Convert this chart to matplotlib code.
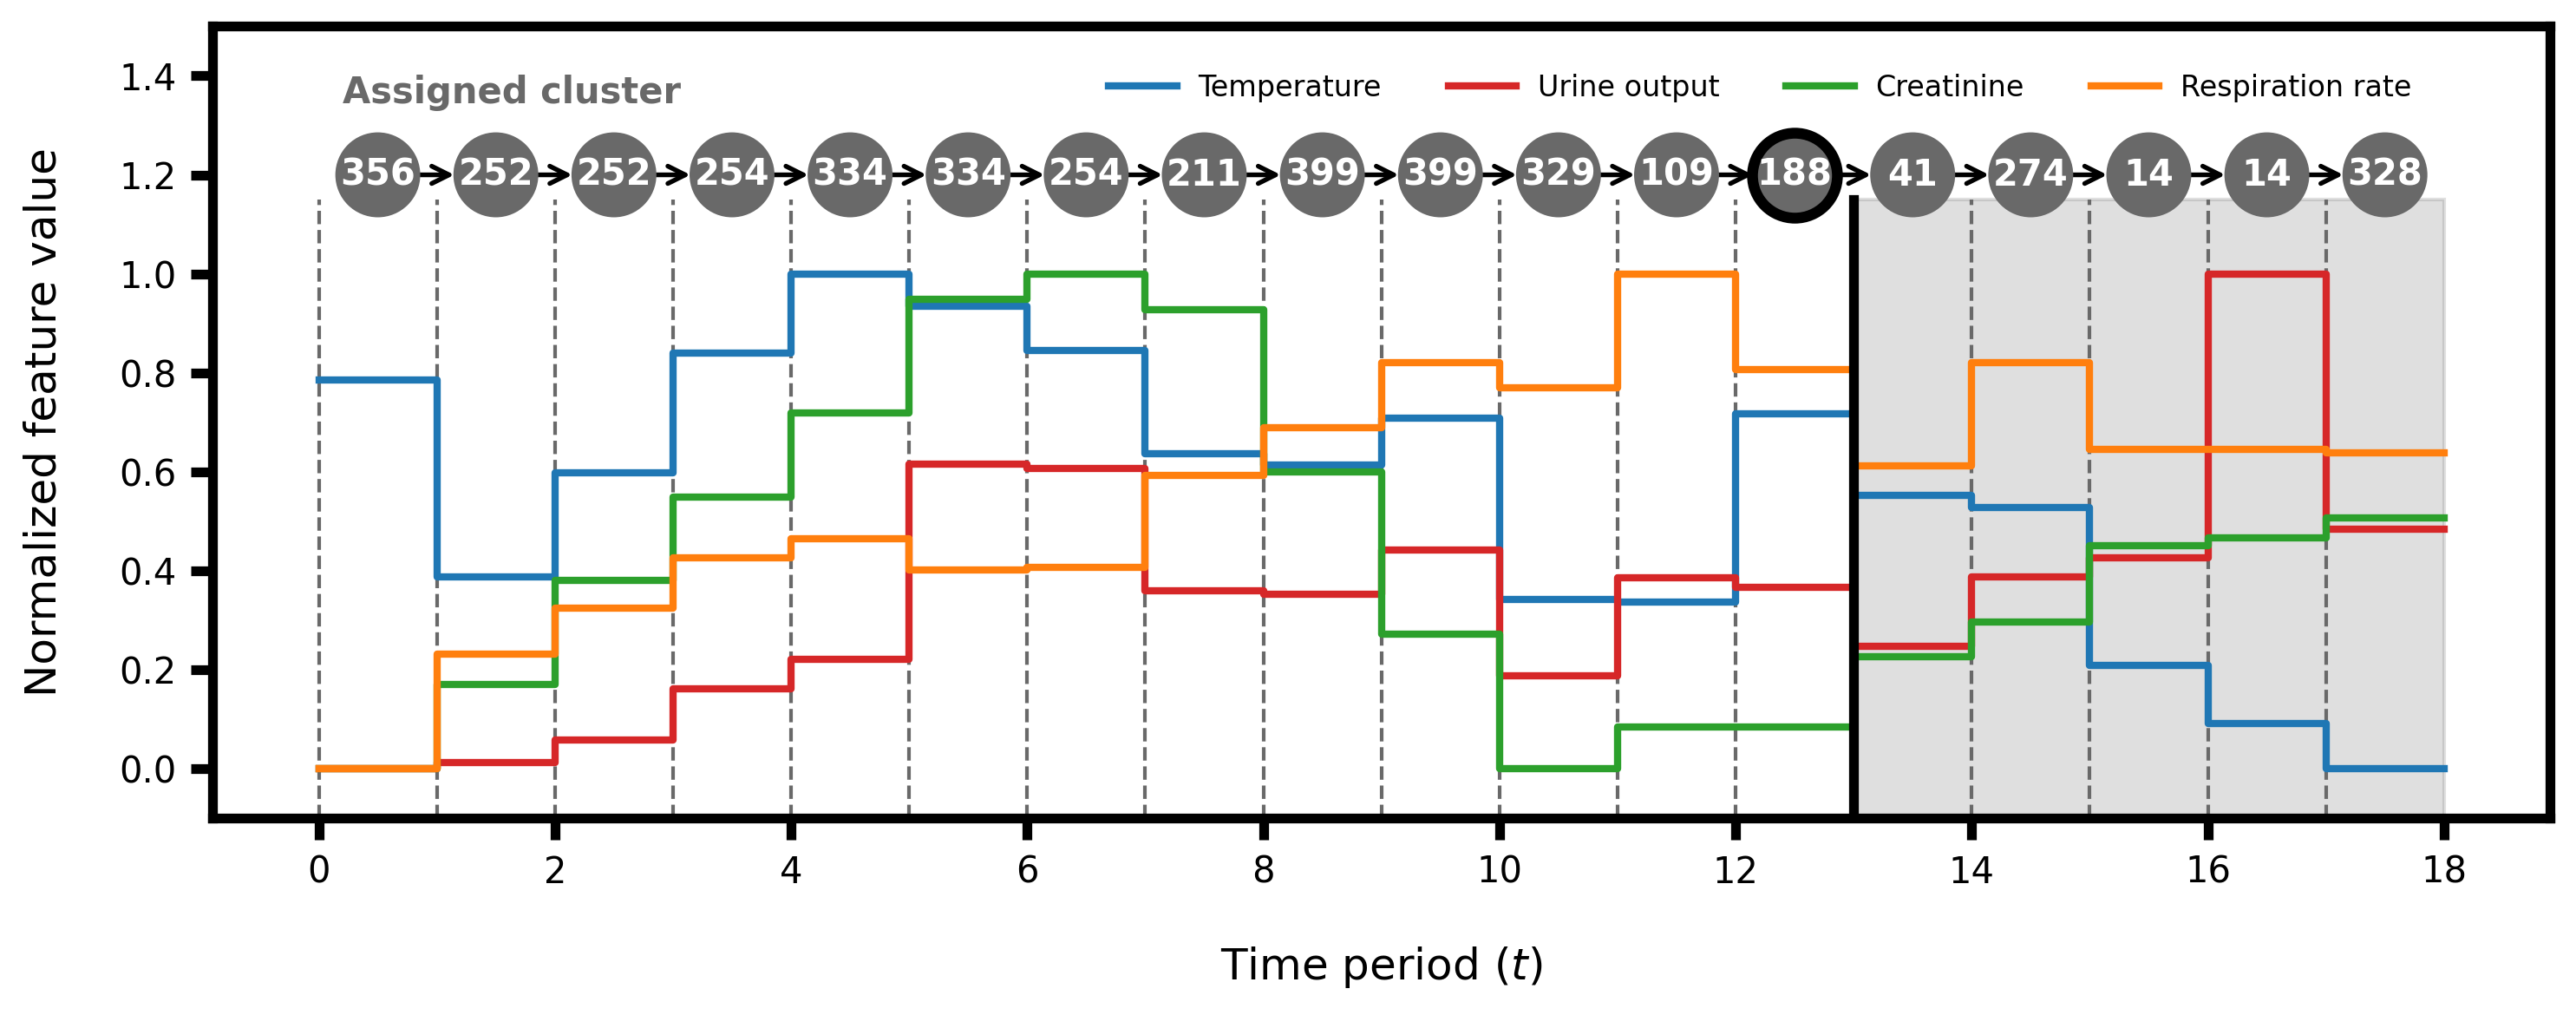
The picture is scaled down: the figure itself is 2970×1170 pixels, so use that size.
import matplotlib
matplotlib.use("Agg")
import matplotlib.pyplot as plt
from matplotlib.patches import Rectangle
import numpy as np

# ---- data ----
periods = list(range(18))
temperature = [0.785, 0.388, 0.597, 0.840, 1.0, 0.934, 0.845, 0.636, 0.614, 0.709,
               0.341, 0.337, 0.717, 0.552, 0.528, 0.208, 0.091, 0.0]
urine_output = [0.0, 0.012, 0.058, 0.162, 0.221, 0.615, 0.606, 0.360, 0.352, 0.441,
                0.187, 0.385, 0.367, 0.247, 0.388, 0.426, 1.0, 0.483]
creatinine = [0.0, 0.170, 0.381, 0.549, 0.718, 0.949, 1.0, 0.928, 0.599, 0.272,
              0.0, 0.085, 0.085, 0.226, 0.297, 0.451, 0.466, 0.506]
respiration_rate = [0.0, 0.232, 0.325, 0.426, 0.465, 0.402, 0.407, 0.592, 0.689, 0.821,
                    0.770, 1.0, 0.806, 0.612, 0.821, 0.645, 0.645, 0.639]
clusters = [356, 252, 252, 254, 334, 334, 254, 211, 399, 399, 329, 109, 188,
            41, 274, 14, 14, 328]
highlight_idx = 12
current_t = 13
series_names = ["Temperature", "Urine output", "Creatinine", "Respiration rate"]
series_colors = ["tab:blue", "tab:red", "tab:green", "tab:orange"]
xticks = list(range(0, 19, 2))
yticks = [0.0, 0.2, 0.4, 0.6, 0.8, 1.0, 1.2, 1.4]

plt.rcParams['font.family'] = ['DejaVu Sans']

fig = plt.figure(figsize=(9.9, 3.9), dpi=300)
ax = fig.add_axes([0.0825, 0.194, 0.9075, 0.78])

n = len(periods)
edges = np.arange(n + 1)
vline_top = 1.15
ymin, ymax = -0.1, 1.5

# future shaded region
ax.add_patch(Rectangle((current_t, ymin), n - current_t, vline_top - ymin,
                       facecolor='gray', edgecolor='gray', alpha=0.25, lw=1.0, zorder=0))

# dashed period boundaries
for t in range(n):
    if t == current_t:
        continue
    ax.plot([t, t], [ymin, vline_top], ls='--', color='dimgray', lw=1.0, zorder=1)

all_series = [temperature, urine_output, creatinine, respiration_rate]
for name, vals, col in zip(series_names, all_series, series_colors):
    y = list(vals) + [vals[-1]]
    ax.plot(edges, y, drawstyle='steps-post', color=col, lw=2.0, label=name, zorder=3)

# current time line
ax.plot([current_t, current_t], [ymin, vline_top], color='black', lw=2.7, zorder=5)

# cluster nodes
node_y = 1.2
centers = np.array(periods) + 0.5
for i, (cx, c) in enumerate(zip(centers, clusters)):
    if i == highlight_idx:
        ax.scatter([cx], [node_y], s=23.5 ** 2, color='dimgray', edgecolors='black',
                   linewidths=3.0, zorder=6)
    else:
        ax.scatter([cx], [node_y], s=23.5 ** 2, color='dimgray', edgecolors='none', zorder=6)
    ax.text(cx, node_y, str(c), color='white', fontsize=10, fontweight='bold',
            ha='center', va='center', zorder=7)
for i in range(n - 1):
    ax.annotate('', xy=(centers[i + 1], node_y), xytext=(centers[i], node_y),
                arrowprops=dict(arrowstyle='->', color='black', lw=1.3,
                                shrinkA=11.5, shrinkB=11.5, mutation_scale=12),
                zorder=5)

ax.text(0.2, 1.365, "Assigned cluster", color='dimgray', fontsize=10,
        fontweight='bold', ha='left', va='center')

ax.set_xlim(-0.9, 18.9)
ax.set_ylim(ymin, ymax)
ax.set_xticks(xticks)
ax.set_yticks(yticks)
ax.set_yticklabels([f"{v:.1f}" for v in yticks])
ax.tick_params(axis='both', length=6, width=2.7, labelsize=10, pad=4)
for sp in ax.spines.values():
    sp.set_linewidth(2.7)

ax.set_xlabel("Time period ($t$)", fontsize=12, labelpad=15)
ax.set_ylabel("Normalized feature value", fontsize=12, labelpad=15)

ax.legend(loc='center', bbox_to_anchor=(0.662, 0.922), ncol=4, frameon=False,
          fontsize=8, handlelength=2.35, columnspacing=2.3, handletextpad=0.75)

fig.savefig("out.png", dpi=300)
